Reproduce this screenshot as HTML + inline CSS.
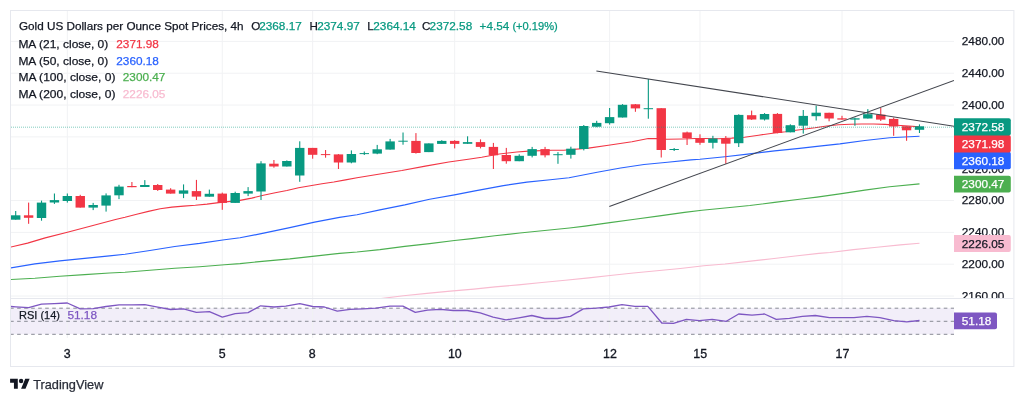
<!DOCTYPE html>
<html><head><meta charset="utf-8"><title>Gold US Dollars per Ounce Spot Prices</title>
<style>
html,body{margin:0;padding:0;background:#fff;}
body{width:1024px;height:402px;overflow:hidden;position:relative;}
svg{position:absolute;left:0;top:0;display:block;}
text{font-family:"Liberation Sans",Arial,sans-serif;}
svg{will-change:transform;}
</style></head>
<body>
<svg width="1024" height="402" viewBox="0 0 1024 402">

<rect x="10.5" y="10.5" width="1003.4" height="356" fill="#fff" stroke="#e6e8ee" stroke-width="1"/>
<rect x="11" y="308.2" width="943" height="26" fill="#7e57c2" fill-opacity="0.1"/>
<g stroke="#f1f2f4" stroke-width="1"><line x1="11" y1="41.40" x2="954" y2="41.40"/><line x1="11" y1="73.23" x2="954" y2="73.23"/><line x1="11" y1="105.06" x2="954" y2="105.06"/><line x1="11" y1="136.89" x2="954" y2="136.89"/><line x1="11" y1="168.72" x2="954" y2="168.72"/><line x1="11" y1="200.55" x2="954" y2="200.55"/><line x1="11" y1="232.38" x2="954" y2="232.38"/><line x1="11" y1="264.21" x2="954" y2="264.21"/><line x1="11" y1="296.04" x2="954" y2="296.04"/><line x1="67.34" y1="11" x2="67.34" y2="338"/><line x1="222.28" y1="11" x2="222.28" y2="338"/><line x1="312.65" y1="11" x2="312.65" y2="338"/><line x1="454.67" y1="11" x2="454.67" y2="338"/><line x1="609.61" y1="11" x2="609.61" y2="338"/><line x1="699.98" y1="11" x2="699.98" y2="338"/><line x1="842.00" y1="11" x2="842.00" y2="338"/></g>
<line x1="11" y1="298.5" x2="1013.5" y2="298.5" stroke="#e6e8ee" stroke-width="1"/>
<defs><clipPath id="mp"><rect x="11" y="11" width="943" height="287"/></clipPath><clipPath id="rp"><rect x="11" y="299" width="943" height="40"/></clipPath></defs>
<g clip-path="url(#mp)" fill="none" stroke-width="1.15" stroke-linejoin="round">
<polyline points="380.0,298.7 403.4,295.7 426.9,293.4 450.3,291.1 473.8,289.1 495.0,286.9 518.4,284.9 541.9,282.5 565.3,280.2 588.8,277.9 610.0,275.5 633.4,273.0 656.9,270.7 680.3,268.5 703.8,265.8 725.0,264.0 748.4,261.4 771.9,258.7 795.3,256.0 818.8,253.4 830.0,252.5 853.4,249.6 876.9,247.3 900.3,244.9 919.5,243.2" stroke="#f8bbd0"/>
<polyline points="10.0,279.6 34.9,278.3 59.8,276.3 84.6,274.6 109.5,273.0 125.0,272.3 149.9,270.2 174.8,268.3 199.6,266.7 224.5,264.8 240.0,263.6 264.9,261.1 289.8,258.9 314.6,256.1 339.5,253.4 357.0,252.0 379.9,249.6 404.8,246.4 429.6,243.6 454.5,240.5 472.0,238.6 494.9,235.8 519.8,233.0 544.6,230.5 569.5,228.0 585.0,226.1 609.9,222.6 634.8,219.2 659.6,215.9 684.5,212.4 702.0,210.3 724.9,208.0 749.8,205.5 774.6,202.4 799.5,199.3 817.0,197.1 839.9,193.9 864.8,190.1 889.6,186.8 919.5,183.9" stroke="#4caf50"/>
<polyline points="10.0,268.0 34.9,263.9 59.8,260.9 84.6,258.4 109.5,255.9 125.0,254.3 149.9,250.5 174.8,246.5 199.6,243.4 224.5,239.7 240.0,237.8 264.9,232.9 289.8,227.6 314.6,222.1 339.5,217.4 357.0,214.7 379.9,209.9 404.8,204.9 429.6,199.3 454.5,194.9 475.0,190.9 503.4,185.6 526.9,182.1 550.3,179.8 569.0,177.7 597.2,172.3 620.6,168.0 644.0,164.5 667.5,162.2 690.9,159.9 700.0,159.3 724.9,156.7 749.8,153.9 774.6,150.9 799.5,148.4 817.0,146.4 839.9,143.9 864.8,140.5 889.6,137.8 919.5,136.2" stroke="#2962ff"/>
<polyline points="10.0,247.2 27.6,243.1 45.2,237.9 67.4,232.3 92.0,225.8 115.5,219.5 125.0,217.3 136.7,214.3 148.4,211.4 160.2,208.8 171.9,207.1 183.6,206.1 195.3,205.3 207.0,204.1 218.8,202.6 230.5,201.4 240.0,200.4 251.7,198.1 263.4,195.2 275.2,192.8 286.9,190.5 298.6,187.8 310.3,185.8 322.0,183.8 333.8,182.0 345.5,179.9 357.0,177.8 378.4,174.3 401.9,170.5 425.3,166.1 448.8,162.0 470.0,159.0 481.7,157.2 499.3,154.0 516.9,152.0 528.6,151.1 552.0,150.2 563.8,150.2 588.5,148.1 608.4,145.2 631.9,141.7 648.3,138.5 656.5,138.6 667.0,139.3 682.3,139.0 695.2,138.5 705.0,138.5 718.8,138.7 731.6,138.1 744.5,137.2 758.6,135.2 772.7,133.2 785.5,131.7 796.1,130.2 815.0,127.8 826.7,126.0 838.4,124.8 850.2,124.3 861.9,124.0 873.6,124.0 885.3,124.4 897.0,125.2 908.8,126.0 919.5,126.9" stroke="#f23645"/>
</g>
<g><rect x="15.15" y="211.0" width="1.1" height="8.7" fill="#089981"/><rect x="11.00" y="215.3" width="9.4" height="4.4" fill="#089981"/><rect x="28.06" y="202.6" width="1.1" height="21.2" fill="#f23645"/><rect x="23.91" y="215.3" width="9.4" height="2.5" fill="#f23645"/><rect x="40.97" y="200.6" width="1.1" height="20.1" fill="#089981"/><rect x="36.82" y="202.6" width="9.4" height="15.4" fill="#089981"/><rect x="53.88" y="193.5" width="1.1" height="10.4" fill="#089981"/><rect x="49.73" y="200.1" width="9.4" height="2.4" fill="#089981"/><rect x="66.79" y="193.5" width="1.1" height="9.1" fill="#089981"/><rect x="62.64" y="196.0" width="9.4" height="5.0" fill="#089981"/><rect x="79.70" y="194.8" width="1.1" height="12.8" fill="#f23645"/><rect x="75.55" y="196.0" width="9.4" height="11.6" fill="#f23645"/><rect x="92.62" y="202.9" width="1.1" height="7.2" fill="#089981"/><rect x="88.47" y="205.0" width="9.4" height="2.6" fill="#089981"/><rect x="105.53" y="193.4" width="1.1" height="18.2" fill="#089981"/><rect x="101.38" y="195.4" width="9.4" height="10.2" fill="#089981"/><rect x="118.44" y="184.8" width="1.1" height="14.3" fill="#089981"/><rect x="114.29" y="186.6" width="9.4" height="8.7" fill="#089981"/><rect x="131.35" y="182.0" width="1.1" height="5.2" fill="#f23645"/><rect x="127.20" y="186.0" width="9.4" height="1.2" fill="#f23645"/><rect x="144.26" y="180.1" width="1.1" height="6.9" fill="#089981"/><rect x="140.11" y="185.0" width="9.4" height="2.0" fill="#089981"/><rect x="157.17" y="184.0" width="1.1" height="6.9" fill="#f23645"/><rect x="153.02" y="185.0" width="9.4" height="5.0" fill="#f23645"/><rect x="170.08" y="188.2" width="1.1" height="5.4" fill="#f23645"/><rect x="165.93" y="189.6" width="9.4" height="4.0" fill="#f23645"/><rect x="182.99" y="184.4" width="1.1" height="13.7" fill="#089981"/><rect x="178.84" y="190.4" width="9.4" height="3.3" fill="#089981"/><rect x="195.90" y="179.9" width="1.1" height="20.1" fill="#f23645"/><rect x="191.75" y="191.1" width="9.4" height="5.5" fill="#f23645"/><rect x="208.81" y="189.6" width="1.1" height="7.1" fill="#089981"/><rect x="204.66" y="193.8" width="9.4" height="2.9" fill="#089981"/><rect x="221.73" y="192.6" width="1.1" height="17.2" fill="#f23645"/><rect x="217.58" y="193.6" width="9.4" height="9.3" fill="#f23645"/><rect x="234.64" y="191.7" width="1.1" height="11.2" fill="#089981"/><rect x="230.49" y="193.0" width="9.4" height="9.9" fill="#089981"/><rect x="247.55" y="187.1" width="1.1" height="9.0" fill="#089981"/><rect x="243.40" y="191.1" width="9.4" height="2.5" fill="#089981"/><rect x="260.46" y="161.2" width="1.1" height="38.8" fill="#089981"/><rect x="256.31" y="163.4" width="9.4" height="28.1" fill="#089981"/><rect x="273.37" y="160.0" width="1.1" height="7.7" fill="#f23645"/><rect x="269.22" y="163.7" width="9.4" height="2.8" fill="#f23645"/><rect x="286.28" y="160.4" width="1.1" height="6.1" fill="#089981"/><rect x="282.13" y="161.0" width="9.4" height="5.5" fill="#089981"/><rect x="299.19" y="141.3" width="1.1" height="40.5" fill="#089981"/><rect x="295.04" y="147.9" width="9.4" height="27.6" fill="#089981"/><rect x="312.10" y="147.9" width="1.1" height="10.8" fill="#f23645"/><rect x="307.95" y="147.9" width="9.4" height="6.9" fill="#f23645"/><rect x="325.01" y="150.0" width="1.1" height="7.7" fill="#f23645"/><rect x="320.86" y="154.1" width="9.4" height="1.0" fill="#f23645"/><rect x="337.92" y="154.1" width="1.1" height="14.9" fill="#f23645"/><rect x="333.77" y="154.4" width="9.4" height="8.1" fill="#f23645"/><rect x="350.84" y="150.4" width="1.1" height="12.9" fill="#089981"/><rect x="346.69" y="154.0" width="9.4" height="8.5" fill="#089981"/><rect x="363.75" y="151.5" width="1.1" height="3.5" fill="#089981"/><rect x="359.60" y="153.1" width="9.4" height="1.0" fill="#089981"/><rect x="376.66" y="144.9" width="1.1" height="9.3" fill="#089981"/><rect x="372.51" y="149.3" width="9.4" height="4.3" fill="#089981"/><rect x="389.57" y="138.9" width="1.1" height="10.7" fill="#089981"/><rect x="385.42" y="141.4" width="9.4" height="8.2" fill="#089981"/><rect x="402.48" y="132.5" width="1.1" height="12.2" fill="#089981"/><rect x="398.33" y="140.7" width="9.4" height="1.0" fill="#089981"/><rect x="415.39" y="133.1" width="1.1" height="20.5" fill="#f23645"/><rect x="411.24" y="140.9" width="9.4" height="12.1" fill="#f23645"/><rect x="428.30" y="143.4" width="1.1" height="8.7" fill="#089981"/><rect x="424.15" y="143.4" width="9.4" height="8.7" fill="#089981"/><rect x="441.21" y="140.2" width="1.1" height="3.7" fill="#089981"/><rect x="437.06" y="140.9" width="9.4" height="3.0" fill="#089981"/><rect x="454.12" y="140.2" width="1.1" height="8.2" fill="#f23645"/><rect x="449.97" y="140.9" width="9.4" height="3.0" fill="#f23645"/><rect x="467.03" y="136.3" width="1.1" height="7.5" fill="#089981"/><rect x="462.88" y="142.1" width="9.4" height="1.7" fill="#089981"/><rect x="479.95" y="139.4" width="1.1" height="9.0" fill="#f23645"/><rect x="475.80" y="142.1" width="9.4" height="4.8" fill="#f23645"/><rect x="492.86" y="142.9" width="1.1" height="26.1" fill="#f23645"/><rect x="488.71" y="146.9" width="9.4" height="8.4" fill="#f23645"/><rect x="505.77" y="147.9" width="1.1" height="15.8" fill="#f23645"/><rect x="501.62" y="155.0" width="9.4" height="6.2" fill="#f23645"/><rect x="518.68" y="154.3" width="1.1" height="6.9" fill="#089981"/><rect x="514.53" y="155.8" width="9.4" height="5.4" fill="#089981"/><rect x="531.59" y="146.9" width="1.1" height="10.5" fill="#089981"/><rect x="527.44" y="149.1" width="9.4" height="6.7" fill="#089981"/><rect x="544.50" y="146.9" width="1.1" height="10.5" fill="#f23645"/><rect x="540.35" y="149.1" width="9.4" height="6.2" fill="#f23645"/><rect x="557.41" y="152.1" width="1.1" height="11.7" fill="#089981"/><rect x="553.26" y="154.2" width="9.4" height="1.0" fill="#089981"/><rect x="570.32" y="146.7" width="1.1" height="11.9" fill="#089981"/><rect x="566.17" y="148.7" width="9.4" height="6.1" fill="#089981"/><rect x="583.23" y="125.0" width="1.1" height="25.4" fill="#089981"/><rect x="579.08" y="126.0" width="9.4" height="23.0" fill="#089981"/><rect x="596.15" y="120.8" width="1.1" height="6.4" fill="#089981"/><rect x="592.00" y="122.9" width="9.4" height="3.8" fill="#089981"/><rect x="609.06" y="108.0" width="1.1" height="16.6" fill="#089981"/><rect x="604.91" y="117.1" width="9.4" height="6.1" fill="#089981"/><rect x="621.97" y="104.1" width="1.1" height="13.4" fill="#089981"/><rect x="617.82" y="104.8" width="9.4" height="12.7" fill="#089981"/><rect x="634.88" y="104.0" width="1.1" height="7.8" fill="#f23645"/><rect x="630.73" y="104.3" width="9.4" height="4.1" fill="#f23645"/><rect x="647.79" y="79.0" width="1.1" height="39.7" fill="#089981"/><rect x="643.64" y="108.2" width="9.4" height="1.0" fill="#089981"/><rect x="660.70" y="108.2" width="1.1" height="49.3" fill="#f23645"/><rect x="656.55" y="108.2" width="9.4" height="41.8" fill="#f23645"/><rect x="673.61" y="148.0" width="1.1" height="3.0" fill="#089981"/><rect x="669.46" y="149.0" width="9.4" height="1.0" fill="#089981"/><rect x="686.52" y="131.6" width="1.1" height="13.4" fill="#f23645"/><rect x="682.37" y="132.4" width="9.4" height="5.6" fill="#f23645"/><rect x="699.43" y="134.3" width="1.1" height="10.5" fill="#f23645"/><rect x="695.28" y="138.0" width="9.4" height="4.8" fill="#f23645"/><rect x="712.34" y="135.8" width="1.1" height="12.7" fill="#089981"/><rect x="708.19" y="138.5" width="9.4" height="4.3" fill="#089981"/><rect x="725.26" y="136.0" width="1.1" height="27.8" fill="#f23645"/><rect x="721.11" y="138.5" width="9.4" height="5.2" fill="#f23645"/><rect x="738.17" y="114.3" width="1.1" height="32.7" fill="#089981"/><rect x="734.02" y="114.9" width="9.4" height="28.3" fill="#089981"/><rect x="751.08" y="110.6" width="1.1" height="9.3" fill="#f23645"/><rect x="746.93" y="115.2" width="9.4" height="4.3" fill="#f23645"/><rect x="763.99" y="113.1" width="1.1" height="7.4" fill="#089981"/><rect x="759.84" y="114.0" width="9.4" height="5.5" fill="#089981"/><rect x="776.90" y="113.1" width="1.1" height="20.2" fill="#f23645"/><rect x="772.75" y="113.9" width="9.4" height="19.1" fill="#f23645"/><rect x="789.81" y="124.3" width="1.1" height="8.0" fill="#089981"/><rect x="785.66" y="125.2" width="9.4" height="7.1" fill="#089981"/><rect x="802.72" y="110.0" width="1.1" height="23.6" fill="#089981"/><rect x="798.57" y="115.9" width="9.4" height="9.8" fill="#089981"/><rect x="815.63" y="105.6" width="1.1" height="14.9" fill="#089981"/><rect x="811.48" y="112.7" width="9.4" height="3.5" fill="#089981"/><rect x="828.54" y="112.7" width="1.1" height="8.6" fill="#f23645"/><rect x="824.39" y="112.8" width="9.4" height="5.7" fill="#f23645"/><rect x="841.45" y="115.8" width="1.1" height="3.8" fill="#f23645"/><rect x="837.30" y="118.3" width="9.4" height="1.3" fill="#f23645"/><rect x="854.37" y="117.6" width="1.1" height="8.2" fill="#089981"/><rect x="850.21" y="118.3" width="9.4" height="1.3" fill="#089981"/><rect x="867.28" y="109.1" width="1.1" height="9.4" fill="#089981"/><rect x="863.13" y="114.2" width="9.4" height="4.3" fill="#089981"/><rect x="880.19" y="108.0" width="1.1" height="13.0" fill="#f23645"/><rect x="876.04" y="114.6" width="9.4" height="5.0" fill="#f23645"/><rect x="893.10" y="117.6" width="1.1" height="18.2" fill="#f23645"/><rect x="888.95" y="118.9" width="9.4" height="7.6" fill="#f23645"/><rect x="906.01" y="126.2" width="1.1" height="14.6" fill="#f23645"/><rect x="901.86" y="126.2" width="9.4" height="4.1" fill="#f23645"/><rect x="918.92" y="124.4" width="1.1" height="8.6" fill="#089981"/><rect x="914.77" y="126.3" width="9.4" height="3.5" fill="#089981"/></g>
<line x1="11" y1="127.2" x2="954" y2="127.2" stroke="#089981" stroke-width="1" stroke-dasharray="1 1" stroke-opacity="0.5"/>
<g clip-path="url(#mp)" stroke="#43464e" stroke-width="1.1" fill="none">
<line x1="596.4" y1="71" x2="954" y2="126.2"/>
<line x1="609.3" y1="206.6" x2="954" y2="80.5"/>
</g>
<g stroke="#878a94" stroke-width="1" stroke-dasharray="3.6 3.42" stroke-dashoffset="0.9">
<line x1="11" y1="308.2" x2="954" y2="308.2"/>
<line x1="11" y1="321.3" x2="954" y2="321.3"/>
<line x1="11" y1="334.3" x2="954" y2="334.3"/>
</g>
<polyline clip-path="url(#rp)" points="11.0,306.5 15.7,306.8 28.6,307.7 41.5,304.2 54.4,303.6 67.3,303.0 80.3,308.9 93.2,308.7 106.1,306.5 119.0,304.9 131.9,304.8 144.8,304.7 157.7,307.2 170.6,309.5 183.5,308.9 196.4,312.4 209.4,311.7 222.3,317.1 235.2,313.6 248.1,312.6 260.6,305.8 274.0,307.0 285.7,306.1 299.8,303.7 312.7,306.5 324.4,307.0 337.3,311.2 350.1,309.4 363.0,308.9 375.9,308.2 390.0,306.1 402.9,306.1 415.3,312.4 427.5,310.1 440.4,309.4 453.3,310.5 467.3,310.5 480.2,312.9 493.1,317.1 506.0,319.9 518.9,317.8 531.8,315.5 544.7,318.5 557.5,318.5 570.4,316.4 583.3,308.9 596.2,308.2 609.1,307.0 622.0,304.7 634.9,306.3 647.8,306.3 661.8,323.0 673.5,323.4 686.4,319.4 699.3,320.6 712.2,319.4 726.3,321.3 738.7,314.0 752.0,315.2 764.5,314.0 776.2,319.4 789.5,318.3 802.4,316.4 815.3,315.5 829.4,317.6 841.1,317.6 854.0,317.6 866.9,316.4 879.8,317.6 893.8,320.6 906.7,321.8 919.5,320.5" fill="none" stroke="#7e57c2" stroke-width="1.3" stroke-linejoin="round"/>
<g clip-path="url(#pa)"><text class="tx" x="961.8" y="45.2" font-size="11.6" fill="#131722" stroke="#131722" stroke-width="0.25" textLength="42.6" lengthAdjust="spacingAndGlyphs">2480.00</text><text class="tx" x="961.8" y="77.0" font-size="11.6" fill="#131722" stroke="#131722" stroke-width="0.25" textLength="42.6" lengthAdjust="spacingAndGlyphs">2440.00</text><text class="tx" x="961.8" y="108.9" font-size="11.6" fill="#131722" stroke="#131722" stroke-width="0.25" textLength="42.6" lengthAdjust="spacingAndGlyphs">2400.00</text><text class="tx" x="961.8" y="140.7" font-size="11.6" fill="#131722" stroke="#131722" stroke-width="0.25" textLength="42.6" lengthAdjust="spacingAndGlyphs">2360.00</text><text class="tx" x="961.8" y="172.5" font-size="11.6" fill="#131722" stroke="#131722" stroke-width="0.25" textLength="42.6" lengthAdjust="spacingAndGlyphs">2320.00</text><text class="tx" x="961.8" y="204.3" font-size="11.6" fill="#131722" stroke="#131722" stroke-width="0.25" textLength="42.6" lengthAdjust="spacingAndGlyphs">2280.00</text><text class="tx" x="961.8" y="236.2" font-size="11.6" fill="#131722" stroke="#131722" stroke-width="0.25" textLength="42.6" lengthAdjust="spacingAndGlyphs">2240.00</text><text class="tx" x="961.8" y="268.0" font-size="11.6" fill="#131722" stroke="#131722" stroke-width="0.25" textLength="42.6" lengthAdjust="spacingAndGlyphs">2200.00</text><text class="tx" x="961.8" y="299.8" font-size="11.6" fill="#131722" stroke="#131722" stroke-width="0.25" textLength="42.6" lengthAdjust="spacingAndGlyphs">2160.00</text></g>
<defs><clipPath id="pa"><rect x="954" y="11" width="59" height="287"/></clipPath></defs>
<path d="M954 175.7 H1008.8 Q1010.8 175.7 1010.8 177.7 V190.6 Q1010.8 192.6 1008.8 192.6 H954 Z" fill="#4caf50"/><text class="tx" x="961.8" y="188.3" font-size="11.6" fill="#fff" stroke="#fff" stroke-width="0.25" textLength="42.6" lengthAdjust="spacingAndGlyphs">2300.47</text>
<path d="M954 234.9 H1008.8 Q1010.8 234.9 1010.8 236.9 V250 Q1010.8 252 1008.8 252 H954 Z" fill="#f8bbd0"/><text class="tx" x="961.8" y="247.6" font-size="11.6" fill="#131722" stroke="#131722" stroke-width="0.25" textLength="42.6" lengthAdjust="spacingAndGlyphs">2226.05</text>
<path d="M954 151.7 H1008.8 Q1010.8 151.7 1010.8 153.7 V167.2 Q1010.8 169.2 1008.8 169.2 H954 Z" fill="#2962ff"/><text class="tx" x="961.8" y="164.9" font-size="11.6" fill="#fff" stroke="#fff" stroke-width="0.25" textLength="42.6" lengthAdjust="spacingAndGlyphs">2360.18</text>
<path d="M954 134.9 H1008.8 Q1010.8 134.9 1010.8 136.9 V150.4 Q1010.8 152.4 1008.8 152.4 H954 Z" fill="#f23645"/><text class="tx" x="961.8" y="148.1" font-size="11.6" fill="#fff" stroke="#fff" stroke-width="0.25" textLength="42.6" lengthAdjust="spacingAndGlyphs">2371.98</text>
<path d="M954 118.3 H1008.8 Q1010.8 118.3 1010.8 120.3 V133.4 Q1010.8 135.4 1008.8 135.4 H954 Z" fill="#089981"/><text class="tx" x="961.8" y="131.0" font-size="11.6" fill="#fff" stroke="#fff" stroke-width="0.25" textLength="42.6" lengthAdjust="spacingAndGlyphs">2372.58</text>
<path d="M954 312.4 H995 Q997 312.4 997 314.4 V327.3 Q997 329.3 995 329.3 H954 Z" fill="#7e57c2"/><text class="tx" x="961.8" y="325.1" font-size="11.6" fill="#fff" stroke="#fff" stroke-width="0.25" textLength="29.6" lengthAdjust="spacingAndGlyphs">51.18</text>
<text class="tx" x="19.0" y="29.9" font-size="11.6" fill="#131722" stroke="#131722" stroke-width="0.25" textLength="224.6" lengthAdjust="spacingAndGlyphs">Gold US Dollars per Ounce Spot Prices, 4h</text><text class="tx" x="251.2" y="29.9" font-size="11.6" fill="#131722" stroke="#131722" stroke-width="0.25">O</text><text class="tx" x="259.2" y="29.9" font-size="11.6" fill="#089981" stroke="#089981" stroke-width="0.25" textLength="42.6" lengthAdjust="spacingAndGlyphs">2368.17</text><text class="tx" x="309.4" y="29.9" font-size="11.6" fill="#131722" stroke="#131722" stroke-width="0.25">H</text><text class="tx" x="317.2" y="29.9" font-size="11.6" fill="#089981" stroke="#089981" stroke-width="0.25" textLength="42.6" lengthAdjust="spacingAndGlyphs">2374.97</text><text class="tx" x="367.2" y="29.9" font-size="11.6" fill="#131722" stroke="#131722" stroke-width="0.25">L</text><text class="tx" x="373.3" y="29.9" font-size="11.6" fill="#089981" stroke="#089981" stroke-width="0.25" textLength="42.6" lengthAdjust="spacingAndGlyphs">2364.14</text><text class="tx" x="422.1" y="29.9" font-size="11.6" fill="#131722" stroke="#131722" stroke-width="0.25">C</text><text class="tx" x="429.6" y="29.9" font-size="11.6" fill="#089981" stroke="#089981" stroke-width="0.25" textLength="42.6" lengthAdjust="spacingAndGlyphs">2372.58</text><text class="tx" x="479.6" y="29.9" font-size="11.6" fill="#089981" stroke="#089981" stroke-width="0.25" textLength="29.6" lengthAdjust="spacingAndGlyphs">+4.54</text><text class="tx" x="512.4" y="29.9" font-size="11.6" fill="#089981" stroke="#089981" stroke-width="0.25" textLength="45.4" lengthAdjust="spacingAndGlyphs">(+0.19%)</text><text class="tx" x="18.4" y="47.6" font-size="11.6" fill="#131722" stroke="#131722" stroke-width="0.25" textLength="89.9" lengthAdjust="spacingAndGlyphs">MA (21, close, 0)</text><text class="tx" x="116.3" y="47.6" font-size="11.6" fill="#f23645" stroke="#f23645" stroke-width="0.25" textLength="42.6" lengthAdjust="spacingAndGlyphs">2371.98</text><text class="tx" x="18.4" y="64.5" font-size="11.6" fill="#131722" stroke="#131722" stroke-width="0.25" textLength="89.9" lengthAdjust="spacingAndGlyphs">MA (50, close, 0)</text><text class="tx" x="116.3" y="64.5" font-size="11.6" fill="#2962ff" stroke="#2962ff" stroke-width="0.25" textLength="42.6" lengthAdjust="spacingAndGlyphs">2360.18</text><text class="tx" x="18.4" y="81.3" font-size="11.6" fill="#131722" stroke="#131722" stroke-width="0.25" textLength="97.0" lengthAdjust="spacingAndGlyphs">MA (100, close, 0)</text><text class="tx" x="122.8" y="81.3" font-size="11.6" fill="#4caf50" stroke="#4caf50" stroke-width="0.25" textLength="42.6" lengthAdjust="spacingAndGlyphs">2300.47</text><text class="tx" x="18.4" y="98.1" font-size="11.6" fill="#131722" stroke="#131722" stroke-width="0.25" textLength="97.0" lengthAdjust="spacingAndGlyphs">MA (200, close, 0)</text><text class="tx" x="122.8" y="98.1" font-size="11.6" fill="#f8bbd0" stroke="#f8bbd0" stroke-width="0.25" textLength="42.6" lengthAdjust="spacingAndGlyphs">2226.05</text><text class="tx" x="19.0" y="318.7" font-size="11.6" fill="#131722" stroke="#131722" stroke-width="0.25" textLength="41.0" lengthAdjust="spacingAndGlyphs">RSI (14)</text><text class="tx" x="67.4" y="318.7" font-size="11.6" fill="#7e57c2" stroke="#7e57c2" stroke-width="0.25" textLength="29.6" lengthAdjust="spacingAndGlyphs">51.18</text>
<text class="tx" x="67.3" y="357.8" font-size="12.4" fill="#131722" stroke="#131722" stroke-width="0.32" text-anchor="middle">3</text><text class="tx" x="222.2" y="357.8" font-size="12.4" fill="#131722" stroke="#131722" stroke-width="0.32" text-anchor="middle">5</text><text class="tx" x="312.3" y="357.8" font-size="12.4" fill="#131722" stroke="#131722" stroke-width="0.32" text-anchor="middle">8</text><text class="tx" x="454.8" y="357.8" font-size="12.4" fill="#131722" stroke="#131722" stroke-width="0.32" text-anchor="middle">10</text><text class="tx" x="610" y="357.8" font-size="12.4" fill="#131722" stroke="#131722" stroke-width="0.32" text-anchor="middle">12</text><text class="tx" x="700.2" y="357.8" font-size="12.4" fill="#131722" stroke="#131722" stroke-width="0.32" text-anchor="middle">15</text><text class="tx" x="842.5" y="357.8" font-size="12.4" fill="#131722" stroke="#131722" stroke-width="0.32" text-anchor="middle">17</text>
<g transform="translate(10.1 376.6) scale(0.55)" fill="#131722"><path d="M14 22H7V11H0V4h14v18zM28 22h-8l7.5-18h8L28 22z"/><circle cx="20" cy="8" r="4"/></g>
<text class="tx" x="33.2" y="388.5" font-size="12.4" fill="#2a2e39" stroke="#2a2e39" stroke-width="0.25" textLength="70.2" lengthAdjust="spacingAndGlyphs">TradingView</text>
</svg>
</body></html>
